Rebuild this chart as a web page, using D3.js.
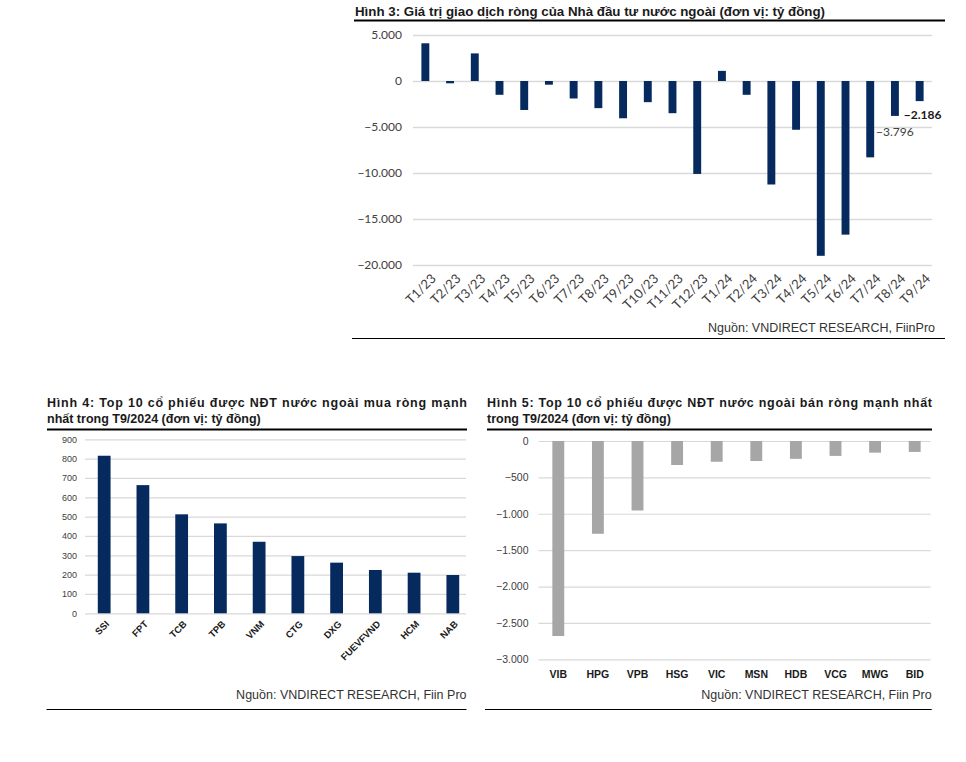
<!DOCTYPE html>
<html><head><meta charset="utf-8">
<script src="https://cdn.jsdelivr.net/npm/d3@7"></script>
<style>
html,body{margin:0;padding:0;background:#fff;}
svg{display:block;}
</style></head>
<body>
<svg id="c" width="966" height="762"></svg>
<script>
// ---------- DATA ----------
const months = ["T1/23","T2/23","T3/23","T4/23","T5/23","T6/23","T7/23","T8/23","T9/23","T10/23","T11/23","T12/23",
                "T1/24","T2/24","T3/24","T4/24","T5/24","T6/24","T7/24","T8/24","T9/24"];
const netValues = [4100,-250,3000,-1500,-3150,-400,-1900,-2950,-4050,-2300,-3500,-10100,
                   1100,-1500,-11250,-5300,-19000,-16700,-8300,-3796,-2186];
const labelledMonths = ["T8/24","T9/24"];
const boldLabelMonths = ["T9/24"];
const topTicks = [5000,0,-5000,-10000,-15000,-20000];

const buyStocks = ["SSI","FPT","TCB","TPB","VNM","CTG","DXG","FUEVFVND","HCM","NAB"];
const buyValues = [815,663,512,465,370,296,262,224,210,198];
const buyTicks = [0,100,200,300,400,500,600,700,800,900];

const sellStocks = ["VIB","HPG","VPB","HSG","VIC","MSN","HDB","VCG","MWG","BID"];
const sellValues = [-2680,-1275,-955,-330,-285,-275,-245,-205,-160,-150];
const sellTicks = [0,-500,-1000,-1500,-2000,-2500,-3000];

const title3 = "Hình 3: Giá trị giao dịch ròng của Nhà đầu tư nước ngoài (đơn vị: tỷ đồng)";
const title4 = ["Hình 4: Top 10 cổ phiếu được NĐT nước ngoài mua ròng mạnh","nhất trong T9/2024 (đơn vị: tỷ đồng)"];
const title5 = ["Hình 5:  Top 10 cổ phiếu được NĐT nước ngoài bán ròng mạnh nhất","trong T9/2024 (đơn vị: tỷ đồng)"];
const source3 = "Nguồn: VNDIRECT RESEARCH, FiinPro";
const source45 = "Nguồn: VNDIRECT RESEARCH, Fiin Pro";

// ---------- HELPERS ----------
const loc = d3.formatLocale({decimal:",", thousands:".", grouping:[3], currency:["",""]});
const fmt = loc.format(",d");
const svg = d3.select("#c");
const NAVY = "#062a5e", GREY = "#a6a6a6", GRID = "#d9d9d9";
const ARIAL = "'Liberation Sans', Arial, sans-serif";
const CAL = "Lato, 'Open Sans', sans-serif";

// ---------- CHART 3 (top) ----------
{
  const g = svg.append("g");
  g.append("text").attr("x",355).attr("y",16).attr("font-family",ARIAL).attr("font-weight","bold")
    .attr("font-size",13).attr("fill","#1a1a1a").attr("textLength",470).attr("lengthAdjust","spacingAndGlyphs").text(title3);
  g.append("line").attr("x1",354).attr("x2",945).attr("y1",20.5).attr("y2",20.5).attr("stroke","#000").attr("stroke-width",2);

  const x = d3.scaleBand().domain(months).range([413,932]).paddingInner(0.68).paddingOuter(0.34);
  const y = d3.scaleLinear().domain([-20000,5000]).range([265,35]);

  const ya = d3.axisLeft(y).tickValues(topTicks).tickSize(-(932-413)).tickFormat(fmt).tickPadding(11);
  const ag = g.append("g").attr("transform","translate(413,0)").call(ya);
  ag.select(".domain").remove();
  ag.selectAll(".tick line").attr("stroke",GRID).attr("stroke-width",1.3);
  ag.selectAll(".tick text").attr("font-family",CAL).attr("font-size",12).attr("fill","#404040");

  g.selectAll("rect.b").data(months).join("rect").attr("class","b")
    .attr("x",d=>x(d)).attr("width",x.bandwidth())
    .attr("y",(d,i)=>y(Math.max(0,netValues[i])))
    .attr("height",(d,i)=>Math.abs(y(netValues[i])-y(0)))
    .attr("fill",NAVY);

  const xa = d3.axisBottom(x).tickSize(0).tickPadding(0);
  const xg = g.append("g").attr("transform","translate(0,273)").call(xa);
  xg.select(".domain").remove();
  xg.selectAll(".tick text").attr("font-family",CAL).attr("font-size",13).attr("fill","#404040")
    .attr("text-anchor","end").attr("dy","0.7em").attr("transform","translate(5,0) rotate(-45)");

  months.forEach((m,i)=>{
    if(!labelledMonths.includes(m)) return;
    const bold = boldLabelMonths.includes(m);
    g.append("text").attr("x",x(m)+x.bandwidth()/2+(bold?3:0)).attr("y",y(netValues[i])+(bold?18:20))
      .attr("text-anchor","middle").attr("font-family",CAL).attr("font-size",12)
      .attr("font-weight",bold?"bold":"normal").attr("fill",bold?"#1a1a1a":"#404040").text(fmt(netValues[i]));
  });

  g.append("text").attr("x",935).attr("y",332).attr("text-anchor","end").attr("font-family",ARIAL)
    .attr("font-size",12.5).attr("fill","#333").text(source3);
  g.append("line").attr("x1",352).attr("x2",945).attr("y1",338.5).attr("y2",338.5).attr("stroke","#000").attr("stroke-width",1);
}

// ---------- CHART 4 (bottom left) ----------
{
  const g = svg.append("g");
  g.append("text").attr("x",47).attr("y",407).attr("font-family",ARIAL).attr("font-weight","bold")
    .attr("font-size",12.5).attr("fill","#1a1a1a").attr("textLength",420).attr("lengthAdjust","spacing").text(title4[0]);
  g.append("text").attr("x",47).attr("y",423).attr("font-family",ARIAL).attr("font-weight","bold")
    .attr("font-size",12.5).attr("fill","#1a1a1a").text(title4[1]);
  g.append("line").attr("x1",47).attr("x2",467).attr("y1",429.5).attr("y2",429.5).attr("stroke","#000").attr("stroke-width",2);

  const x = d3.scaleBand().domain(buyStocks).range([85,472]).paddingInner(0.67).paddingOuter(0.33);
  const y = d3.scaleLinear().domain([0,900]).range([613.3,439.3]);

  const ya = d3.axisLeft(y).tickValues(buyTicks).tickSize(-(466-85)).tickFormat(fmt).tickPadding(8);
  const ag = g.append("g").attr("transform","translate(85,0)").call(ya);
  ag.select(".domain").remove();
  ag.selectAll(".tick line").attr("stroke",GRID).attr("stroke-width",1.2);
  ag.selectAll(".tick text").attr("font-family",ARIAL).attr("font-size",9).attr("fill","#404040");

  g.selectAll("rect.b").data(buyStocks).join("rect").attr("class","b")
    .attr("x",d=>x(d)).attr("width",x.bandwidth())
    .attr("y",(d,i)=>y(buyValues[i])).attr("height",(d,i)=>y(0)-y(buyValues[i]))
    .attr("fill",NAVY);

  const xa = d3.axisBottom(x).tickSize(0).tickPadding(0);
  const xg = g.append("g").attr("transform","translate(0,620)").call(xa);
  xg.select(".domain").remove();
  xg.selectAll(".tick text").attr("font-family",ARIAL).attr("font-weight","bold").attr("font-size",9.5).attr("fill","#1a1a1a")
    .attr("text-anchor","end").attr("dy","0.7em").attr("transform","translate(1,0) rotate(-45)");

  g.append("text").attr("x",466.5).attr("y",699).attr("text-anchor","end").attr("font-family",ARIAL)
    .attr("font-size",12.5).attr("fill","#333").text(source45);
  g.append("line").attr("x1",46.5).attr("x2",466.5).attr("y1",709.5).attr("y2",709.5).attr("stroke","#000").attr("stroke-width",1);
}

// ---------- CHART 5 (bottom right) ----------
{
  const g = svg.append("g");
  g.append("text").attr("x",487).attr("y",407).attr("font-family",ARIAL).attr("font-weight","bold")
    .attr("font-size",12.5).attr("fill","#1a1a1a").attr("textLength",445).attr("lengthAdjust","spacing").text(title5[0]);
  g.append("text").attr("x",487).attr("y",423).attr("font-family",ARIAL).attr("font-weight","bold")
    .attr("font-size",12.5).attr("fill","#1a1a1a").text(title5[1]);
  g.append("line").attr("x1",487).attr("x2",932).attr("y1",429.5).attr("y2",429.5).attr("stroke","#000").attr("stroke-width",2);

  const x = d3.scaleBand().domain(sellStocks).range([538.5,934.5]).paddingInner(0.7).paddingOuter(0.35);
  const y = d3.scaleLinear().domain([-3000,0]).range([659.3,441]);

  const ya = d3.axisLeft(y).tickValues(sellTicks).tickSize(-(930.7-538.5)).tickFormat(fmt).tickPadding(10);
  const ag = g.append("g").attr("transform","translate(538.5,0)").call(ya);
  ag.select(".domain").remove();
  ag.selectAll(".tick line").attr("stroke",GRID).attr("stroke-width",1.2);
  ag.selectAll(".tick text").attr("font-family",ARIAL).attr("font-size",10.5).attr("fill","#404040");

  g.selectAll("rect.b").data(sellStocks).join("rect").attr("class","b")
    .attr("x",d=>x(d)).attr("width",x.bandwidth())
    .attr("y",y(0)).attr("height",(d,i)=>y(sellValues[i])-y(0))
    .attr("fill",GREY);

  const xa = d3.axisBottom(x).tickSize(0).tickPadding(0);
  const xg = g.append("g").attr("transform","translate(0,674)").call(xa);
  xg.select(".domain").remove();
  xg.selectAll(".tick text").attr("font-family",ARIAL).attr("font-weight","bold").attr("font-size",10.5).attr("fill","#1a1a1a")
    .attr("dy","0.35em");

  g.append("text").attr("x",931.7).attr("y",699).attr("text-anchor","end").attr("font-family",ARIAL)
    .attr("font-size",12.5).attr("fill","#333").text(source45);
  g.append("line").attr("x1",485).attr("x2",931.7).attr("y1",709.5).attr("y2",709.5).attr("stroke","#000").attr("stroke-width",1);
}
</script>
</body></html>
